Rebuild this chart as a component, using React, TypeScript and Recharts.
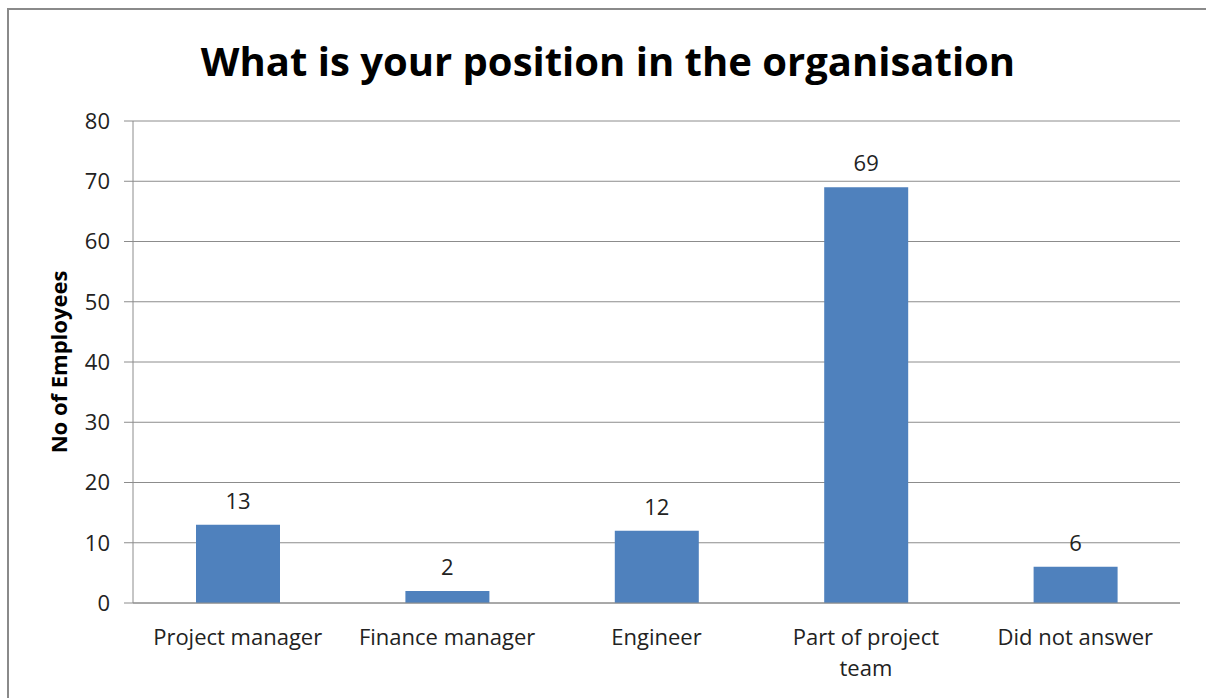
import { BarChart, Bar, XAxis, YAxis, CartesianGrid, LabelList } from 'recharts';

const positions = ['Project manager', 'Finance manager', 'Engineer', 'Part of project team', 'Did not answer'];
const employees = [13, 2, 12, 69, 6];
const yTicks = [0, 10, 20, 30, 40, 50, 60, 70, 80];

const data = positions.map((name, i) => ({ name, value: employees[i] }));

const FONT = '"Open Sans", "Liberation Sans", sans-serif';

// greedy word wrap, keeps short labels on one line
const wrap = (s: string, max = 16) => {
  const lines: string[] = [];
  let cur = '';
  s.split(' ').forEach((w) => {
    const next = cur ? `${cur} ${w}` : w;
    if (next.length > max && cur) {
      lines.push(cur);
      cur = w;
    } else {
      cur = next;
    }
  });
  if (cur) lines.push(cur);
  return lines;
};

const CategoryTick = ({ x, y, payload }: any) => (
  <text x={x} y={y} textAnchor="middle" fill="#222" fontSize={22} fontFamily={FONT}>
    {wrap(payload.value).map((line, i) => (
      <tspan key={i} x={x} dy={i === 0 ? 34 : 31}>
        {line}
      </tspan>
    ))}
  </text>
);

export default function App() {
  return (
    <div style={{ position: 'absolute', left: 0, top: 0, width: 1206, height: 698, overflow: 'hidden', background: '#fff' }}>
      <div
        style={{
          position: 'absolute',
          left: 7,
          top: 8,
          width: 1220,
          height: 720,
          border: '2px solid #8a8a8a',
          boxSizing: 'border-box',
        }}
      />
      <div
        style={{
          position: 'absolute',
          left: 0,
          top: 33,
          width: 1216,
          textAlign: 'center',
          fontFamily: FONT,
          fontWeight: 700,
          fontSize: 40,
          color: '#000',
        }}
      >
        What is your position in the organisation
      </div>
      <div style={{ position: 'absolute', left: 0, top: 0 }}>
        <BarChart width={1206} height={698} data={data} margin={{ top: 121, right: 26, bottom: 65, left: 73 }} barSize={84}>
          <CartesianGrid vertical={false} stroke="#8c8c8c" strokeWidth={1} />
          <XAxis
            dataKey="name"
            height={30}
            tickLine={false}
            axisLine={{ stroke: '#8c8c8c' }}
            tick={<CategoryTick />}
            interval={0}
          />
          <YAxis
            width={60}
            domain={[0, 80]}
            ticks={yTicks}
            tickSize={9}
            tickMargin={14}
            tickLine={{ stroke: '#8c8c8c' }}
            axisLine={{ stroke: '#8c8c8c' }}
            tick={{ fill: '#222', fontSize: 22, fontFamily: FONT }}
            label={{
              value: 'No of Employees',
              angle: -90,
              position: 'center',
              dx: -44,
              style: { fontFamily: FONT, fontWeight: 700, fontSize: 22, fill: '#000', textAnchor: 'middle' },
            }}
          />
          <Bar dataKey="value" fill="#4f81bd" isAnimationActive={false}>
            <LabelList dataKey="value" position="top" offset={16} fill="#222" fontSize={22} fontFamily={FONT} />
          </Bar>
        </BarChart>
      </div>
    </div>
  );
}
